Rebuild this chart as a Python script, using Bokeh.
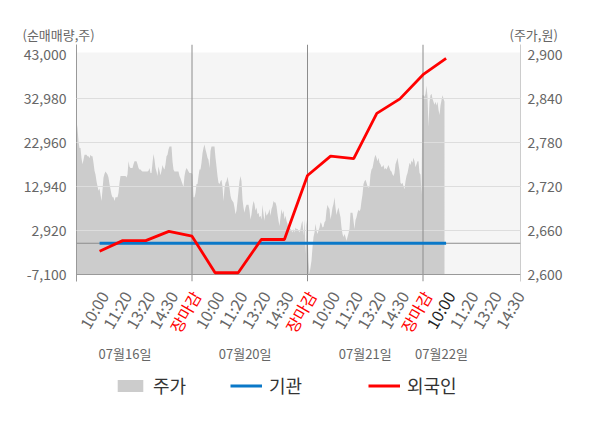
from bokeh.plotting import figure
from bokeh.layouts import column
from bokeh.models import (Range1d, LinearAxis, FixedTicker, NumeralTickFormatter, Span,
                          BoxAnnotation, ColumnDataSource, Legend, LegendItem)
from bokeh.core.properties import value
from bokeh.embed import file_html
from bokeh.resources import INLINE

FONT = "Noto Sans CJK KR"

# ---------------- data ----------------
# intraday share price (주가, 원), fixed sampling interval, four sessions
price_d1 = [2808, 2799, 2781, 2772, 2772, 2758, 2750, 2756, 2763, 2763, 2763, 2761, 2761, 2758, 2763,
            2761, 2761, 2752, 2741, 2736, 2727, 2720, 2714, 2717, 2709, 2700, 2715, 2732, 2737, 2740,
            2738, 2736, 2732, 2723, 2716, 2709, 2705, 2705, 2700, 2705, 2705, 2705, 2711, 2725, 2734,
            2734, 2734, 2734, 2734, 2734, 2732, 2736, 2754, 2747, 2745, 2745, 2745, 2750, 2754, 2754,
            2754, 2750, 2745, 2743, 2743, 2741, 2740, 2740, 2740, 2740, 2740, 2740, 2741, 2745, 2738,
            2738, 2752, 2764, 2756, 2745, 2740, 2734, 2747, 2741, 2735, 2741, 2749, 2745, 2743, 2750,
            2761, 2763, 2770, 2774, 2774, 2774, 2754, 2743, 2740, 2740, 2740, 2740, 2740, 2734, 2731,
            2727, 2723, 2719, 2734, 2741, 2745, 2743, 2740, 2738]
price_d2 = [2738, 2738, 2736, 2705, 2705, 2711, 2723, 2723, 2734, 2743, 2743, 2752, 2765, 2772, 2777,
            2770, 2765, 2759, 2756, 2745, 2768, 2774, 2774, 2774, 2774, 2759, 2747, 2734, 2725, 2723,
            2727, 2729, 2720, 2700, 2718, 2725, 2727, 2733, 2726, 2718, 2707, 2702, 2700, 2698, 2691,
            2682, 2687, 2700, 2714, 2727, 2734, 2727, 2702, 2691, 2684, 2691, 2695, 2695, 2695, 2687,
            2675, 2682, 2693, 2700, 2696, 2687, 2691, 2682, 2684, 2678, 2680, 2675, 2695, 2682, 2673,
            2687, 2680, 2682, 2684, 2689, 2680, 2689, 2693, 2700, 2698, 2698, 2693, 2682, 2673, 2666,
            2678, 2689, 2682, 2687, 2675, 2680, 2673, 2669, 2662, 2664, 2662, 2660, 2657, 2662, 2657,
            2664, 2662, 2662, 2660, 2657, 2662, 2669, 2673, 2653, 2675, 2628]
price_d3 = [2674, 2660, 2619, 2601, 2610, 2619, 2637, 2651, 2657, 2669, 2660, 2655, 2660, 2664, 2671,
            2669, 2664, 2665, 2671, 2673, 2687, 2695, 2691, 2689, 2675, 2682, 2691, 2696, 2705, 2691,
            2681, 2687, 2691, 2684, 2678, 2664, 2655, 2651, 2655, 2651, 2646, 2651, 2656, 2662, 2684,
            2684, 2684, 2673, 2662, 2674, 2678, 2684, 2688, 2686, 2689, 2700, 2709, 2723, 2727, 2729,
            2725, 2720, 2718, 2720, 2736, 2743, 2745, 2752, 2759, 2763, 2759, 2754, 2759, 2752, 2750,
            2746, 2747, 2749, 2743, 2745, 2743, 2746, 2749, 2745, 2741, 2740, 2736, 2734, 2738, 2750,
            2754, 2759, 2750, 2741, 2725, 2723, 2725, 2720, 2716, 2727, 2734, 2738, 2745, 2752, 2749,
            2755, 2752, 2759, 2754, 2746, 2750, 2754, 2754, 2738, 2736, 2709]
price_d4 = [2844, 2844, 2842, 2846, 2857, 2842, 2801, 2835, 2844, 2846, 2839, 2835, 2831, 2835, 2830,
            2835, 2824, 2817, 2830, 2837, 2844, 2839, 2835]
samples_per_day = 115.5

# cumulative net buying (순매매량, 주) at each session checkpoint
foreign = [-1800, 600, 600, 2700, 1600, -6700, -6700, 850, 850,
           15400, 19800, 19250, 29500, 32800, 38300, 42000]
institution = [0, 0, 0, 0, 0, 0, 0, 0, 0, 0, 0, 0, 0, 0, 0, 0]

session_ticks = ["10:00", "11:20", "13:20", "14:30", "장마감"]
tick_labels = session_ticks * 3 + session_ticks[:4]
dates = ["07월16일", "07월20일", "07월21일", "07월22일"]
left_ticks = [-7100, 2920, 12940, 22960, 32980, 43000]
right_ticks = [2600, 2660, 2720, 2780, 2840, 2900]

# ---------------- layout constants ----------------
W = 592
PX_DAY = samples_per_day            # pixels per session
FRAME_L, FRAME_R = 76, 520
slots_per_day = 5
x_end = (FRAME_R - FRAME_L) / PX_DAY
upp = (43000 - (-7100)) / 220.5     # left units per pixel
ppp = (2900 - 2600) / 220.5         # price units per pixel
y_lo, y_hi = -7100 - 7 * upp, 43000 + 9.5 * upp
p_lo, p_hi = 2600 - 7 * ppp, 2900 + 9.5 * ppp
date_pos = [0.42, 1.46, 2.50, 3.16]

prices = price_d1 + price_d2 + price_d3 + price_d4
xs = [i / samples_per_day for i in range(len(prices))]
slot_x = [(k + 1) / slots_per_day for k in range(len(foreign))]
tick_x = [(k + 1) / slots_per_day for k in range(len(tick_labels))]
full_start, full_end = -FRAME_L / PX_DAY, (W - FRAME_L) / PX_DAY


def bare(height, y_top, y_bottom):
    f = figure(width=W, height=height, output_backend="svg", toolbar_location=None,
               x_range=Range1d(full_start, full_end), y_range=Range1d(y_bottom, y_top),
               min_border=0, frame_align=False,
               background_fill_color="white", border_fill_color="white")
    f.axis.visible = False
    f.grid.visible = False
    f.outline_line_color = None
    return f


# ---------- top strip: axis titles ----------
top = bare(44, 0, 44)
top.text(x=[(22 - FRAME_L) / PX_DAY, (509 - FRAME_L) / PX_DAY], y=[34, 34],
         text=["(순매매량,주)", "(주가,원)"], text_align="left", text_baseline="middle",
         text_color="#666666", text_font=value(FONT), text_font_size="13px")

# ---------- main chart ----------
p = figure(width=W, height=240, output_backend="svg", toolbar_location=None,
           x_range=Range1d(0, x_end), y_range=Range1d(y_lo, y_hi), frame_align=False,
           min_border_left=FRAME_L, min_border_right=W - FRAME_R, min_border_top=0,
           min_border_bottom=3, background_fill_color="white", border_fill_color="white")
p.outline_line_color = None
p.extra_y_ranges = {"price": Range1d(p_lo, p_hi)}
p.xaxis.visible = False

p.add_layout(BoxAnnotation(bottom=-7100, top=43000 + 1.5 * upp, fill_color="#f5f5f5",
                           fill_alpha=1, line_alpha=0, level="underlay"))

area = p.varea(x=xs, y1=2600, y2=prices, y_range_name="price", fill_color="#cccccc")

p.xgrid.visible = False
p.ygrid.ticker = FixedTicker(ticks=left_ticks[1:-1])
p.ygrid.grid_line_color = "#dddddd"
p.ygrid.level = "annotation"

for d in range(1, 4):
    p.add_layout(Span(location=d, dimension="height", line_color="#8c8c8c", line_width=1))
p.add_layout(Span(location=0, dimension="width", line_color="#8c8c8c", line_width=1))
p.add_layout(Span(location=-7100, dimension="width", line_color="#999999", line_width=1))

blue = p.line(slot_x, institution, line_color="#0a78c8", line_width=3)
red = p.line(slot_x, foreign, line_color="#ff0000", line_width=2.8)
blue.level = "overlay"
red.level = "overlay"

la = p.yaxis[0]
la.ticker = FixedTicker(ticks=left_ticks)
la.formatter = NumeralTickFormatter(format="0,0")
ra = LinearAxis(y_range_name="price", ticker=FixedTicker(ticks=right_ticks),
                formatter=NumeralTickFormatter(format="0,0"))
p.add_layout(ra, "right")
for ax, lc, so in [(la, "#999999", 10), (ra, "#cccccc", 7)]:
    ax.major_tick_out = 0
    ax.major_tick_in = 0
    ax.minor_tick_out = 0
    ax.minor_tick_in = 0
    ax.axis_line_color = lc
    ax.major_label_standoff = so
    ax.major_label_text_font = FONT
    ax.major_label_text_font_size = "14px"
    ax.major_label_text_color = "#666666"

# ---------- bottom strip: session labels, dates, legend ----------
bot = bare(420 - 284, 284, 420)
colors = ["#ff0000" if t == "장마감" else "#666666" for t in tick_labels]
colors[15] = "#222222"
tick_src = ColumnDataSource(dict(x=[t + 4 / PX_DAY for t in tick_x], y=[292] * len(tick_x),
                                 text=tick_labels, color=colors))
bot.text(x="x", y="y", text="text", source=tick_src, angle=1.047, text_align="right",
         text_baseline="alphabetic", text_color="color", text_font=value(FONT),
         text_font_size="16px")
bot.text(x=date_pos, y=[353] * len(dates), text=dates, text_align="center",
         text_baseline="middle", text_color="#666666", text_font=value(FONT),
         text_font_size="13px")

# legend swatches (kept outside the visible x range)
l_area = bot.varea(x=[-50, -49], y1=[300, 300], y2=[301, 301], fill_color="#cccccc")
l_blue = bot.line(x=[-50, -49], y=[300, 300], line_color="#0a78c8", line_width=3)
l_red = bot.line(x=[-50, -49], y=[300, 300], line_color="#ff0000", line_width=2.8)
for lab, r, lx in [("주가", l_area, 114), ("기관", l_blue, 230), ("외국인", l_red, 368)]:
    leg = Legend(items=[LegendItem(label=lab, renderers=[r])], location=(lx, 22),
                 orientation="horizontal", padding=0, margin=0, spacing=0,
                 glyph_width=32, glyph_height=15, label_height=18, label_standoff=7,
                 label_text_font=FONT, label_text_font_size="18px", label_text_color="#333333",
                 background_fill_alpha=0, border_line_alpha=0)
    bot.add_layout(leg)

layout = column(top, p, bot, spacing=0)
open("out.html", "w").write(file_html(layout, INLINE))
